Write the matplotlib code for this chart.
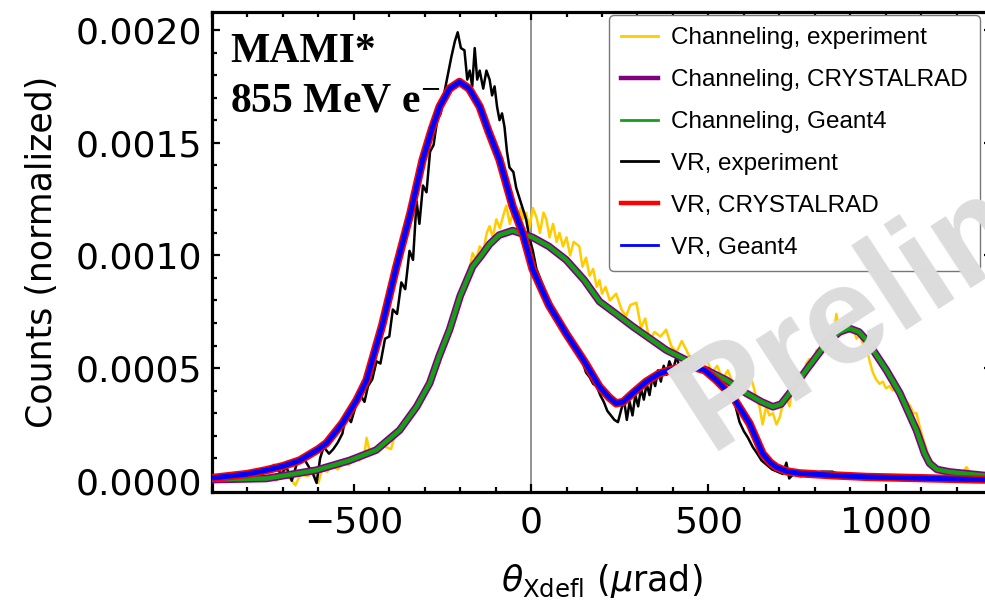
import matplotlib
matplotlib.use("Agg")
import matplotlib.pyplot as plt
from matplotlib.lines import Line2D
from matplotlib.ticker import MultipleLocator, FormatStrFormatter

# channeling, simulation (CRYSTALRAD / Geant4 overlap)
ch_sim_x = [-900, -746, -605, -512, -437, -371, -323, -286, -260, -230, -200, -165, -140, -117, -90,
            -52, 4, 50, 99, 150, 193, 240, 287, 381, 475, 550, 607, 650, 682, 705, 729, 776, 833,
            870, 898, 925, 946, 1002, 1040, 1087, 1110, 1124, 1145, 1180, 1274, 1300]
ch_sim_y = [0.000005, 0.00001, 0.000047, 0.00009, 0.000136, 0.000224, 0.000328, 0.000433, 0.00055,
            0.00067, 0.00082, 0.00095, 0.001, 0.00105, 0.00109, 0.00111, 0.00108, 0.00104, 0.00098,
            0.00089, 0.000795, 0.00074, 0.000684, 0.00058, 0.000506, 0.000447, 0.000388, 0.00035,
            0.000328, 0.00034, 0.000388, 0.000491, 0.00061, 0.00066, 0.000676, 0.00066, 0.000624,
            0.000491, 0.000389, 0.000224, 0.00012, 0.000077, 0.00005, 0.000039, 0.000024, 0.00002]

# volume reflection, simulation
vr_sim_x = [-900, -800, -746, -700, -653, -600, -577, -532, -492, -464, -420, -380, -340, -306, -280,
            -258, -230, -202, -175, -145, -120, -89, -52, -24, 4, 50, 100, 150, 193, 220, 240, 260,
            287, 325, 362, 410, 456, 490, 522, 569, 616, 653, 675, 692, 720, 757, 850, 946, 1274,
            1300]
vr_sim_y = [0.000012, 0.00003, 0.000047, 0.000065, 0.00009, 0.00014, 0.000167, 0.000256, 0.000358,
            0.000447, 0.00069, 0.00095, 0.00119, 0.001424, 0.00156, 0.00166, 0.00174, 0.00177,
            0.00174, 0.00166, 0.00155, 0.001424, 0.001217, 0.0011, 0.00094, 0.00078, 0.00065,
            0.00053, 0.000417, 0.00037, 0.000343, 0.00035, 0.000389, 0.00044, 0.000476, 0.0005,
            0.000506, 0.00049, 0.000447, 0.000372, 0.000254, 0.00012, 0.00008, 0.00006, 0.000042,
            0.000033, 0.000024, 0.000017, 0.000005, 0.000005]

# volume reflection, experiment
vr_exp_x = [-900, -880, -860, -840, -820, -800, -780, -760, -740, -725, -705, -690, -675, -660, -645,
            -630, -615, -605, -595, -585, -570, -558, -545, -532, -522, -508, -495, -485, -470, -460,
            -448, -436, -425, -412, -400, -390, -378, -366, -355, -343, -333, -323, -315, -305, -295,
            -285, -275, -265, -255, -245, -235, -225, -215, -207, -198, -188, -180, -173, -166, -159,
            -152, -145, -135, -126, -117, -110, -103, -96, -89, -82, -75, -68, -61, -50, -42, -32,
            -22, -14, -5, 5, 15, 25, 35, 45, 55, 65, 75, 85, 95, 105, 115, 125, 135, 145, 155, 165,
            175, 185, 195, 205, 215, 225, 235, 245, 255, 262, 270, 278, 286, 294, 302, 310, 318, 326,
            334, 342, 350, 358, 366, 374, 382, 390, 400, 410, 420, 430, 440, 450, 462, 475, 488, 500,
            512, 525, 538, 550, 562, 575, 588, 600, 612, 625, 638, 650, 665, 680, 695, 710, 720, 728,
            740, 760, 790, 820, 850, 880, 920, 960, 1000, 1050, 1100, 1150, 1200, 1250, 1300]
vr_exp_y = [0.00001, 0.00002, 0.00001, 0.00003, 0.00002, 0.00004, 0.00003, 0.00005, 0.00004, 0.00007,
            0.00003, 0.00006, 0.0, 0.00008, 0.00011, 0.00007, 0.00003, -0.00001, 0.0001, 0.00015,
            0.00012, 0.00014, 0.00017, 0.00021, 0.0003, 0.00026, 0.00033, 0.00039, 0.00035, 0.00042,
            0.00045, 0.00053, 0.00052, 0.00063, 0.00064, 0.00076, 0.00074, 0.00088, 0.00085, 0.00102,
            0.00098, 0.00124, 0.00114, 0.00131, 0.00128, 0.00146, 0.00149, 0.0016, 0.00163, 0.00172,
            0.0018, 0.00188, 0.00195, 0.00199, 0.00192, 0.00191, 0.00178, 0.00182, 0.00175, 0.00192,
            0.00178, 0.00182, 0.00174, 0.00182, 0.00178, 0.00171, 0.00175, 0.00166, 0.0016, 0.00163,
            0.00157, 0.00146, 0.00139, 0.00137, 0.0013, 0.00125, 0.0012, 0.00116, 0.00108, 0.00102,
            0.00094, 0.0009, 0.00086, 0.00082, 0.00079, 0.00076, 0.00072, 0.0007, 0.00067, 0.00065,
            0.0006, 0.00058, 0.00055, 0.00053, 0.00048, 0.00046, 0.00043, 0.00042, 0.00038, 0.00035,
            0.00031, 0.00029, 0.00027, 0.00026, 0.00032, 0.00036, 0.00027, 0.00035, 0.00029, 0.00038,
            0.00033, 0.00041, 0.00036, 0.00043, 0.00038, 0.00046, 0.00042, 0.00049, 0.00044, 0.00051,
            0.00047, 0.00053, 0.00049, 0.00055, 0.0005, 0.00054, 0.00052, 0.00055, 0.00051, 0.00053,
            0.00049, 0.0005, 0.00045, 0.00046, 0.00042, 0.00041, 0.00036, 0.00034, 0.00026, 0.00022,
            0.00019, 0.00015, 0.00012, 0.00009, 0.00007, 0.00005, 0.00004, 0.00003, 0.00008, 0.00001,
            0.00003, 0.00002, 0.00003, 0.00004, 0.00004, 0.00002, 0.00002, 0.00001, 0.00002, 0.00001,
            0.00001, 0.00001, 0.00001, 0.0, 0.0]

# channeling, experiment
ch_exp_x = [-900, -880, -860, -840, -820, -800, -780, -760, -740, -720, -700, -680, -665, -650, -630,
            -615, -600, -590, -575, -560, -545, -530, -515, -500, -485, -470, -464, -455, -440, -425,
            -410, -395, -385, -370, -355, -340, -325, -310, -295, -282, -270, -258, -246, -234, -222,
            -210, -198, -186, -175, -165, -155, -145, -135, -125, -117, -108, -98, -88, -78, -70, -60,
            -50, -40, -30, -22, -14, -5, 5, 15, 25, 35, 43, 52, 62, 72, 80, 90, 100, 110, 120, 136,
            145, 155, 165, 175, 185, 193, 200, 210, 222, 240, 255, 268, 280, 297, 310, 322, 334, 348,
            365, 381, 395, 410, 425, 438, 452, 466, 480, 495, 510, 525, 540, 555, 570, 588, 600, 616,
            627, 635, 644, 653, 663, 672, 682, 692, 701, 710, 720, 729, 738, 748, 757, 767, 776, 785,
            795, 805, 813, 823, 832, 842, 852, 861, 870, 880, 889, 898, 908, 918, 927, 937, 946, 955,
            964, 973, 983, 992, 1001, 1011, 1020, 1030, 1040, 1050, 1060, 1070, 1078, 1087, 1096,
            1105, 1115, 1124, 1133, 1145, 1160, 1175, 1190, 1205, 1215, 1228, 1240, 1255, 1270, 1285,
            1300]
ch_exp_y = [0.0, 0.00001, 0.0, 0.00001, 0.0, 0.00002, 0.0, 0.00001, 0.00002, 0.0, 0.00002, 0.00001,
            -0.00002, 0.00003, 0.00002, 0.00004, -0.00001, 0.00005, 0.00004, 0.00007, 0.00005,
            0.00008, 0.00007, 0.0001, 0.00009, 0.00012, 0.00019, 0.00013, 0.00014, 0.00016, 0.00015,
            0.00014, 0.0002, 0.00023, 0.00026, 0.00028, 0.00032, 0.00036, 0.00041, 0.00047, 0.00051,
            0.00057, 0.0006, 0.00066, 0.00072, 0.00076, 0.00082, 0.00086, 0.00093, 0.00101, 0.00098,
            0.00104, 0.00102, 0.0011, 0.00113, 0.00108, 0.00116, 0.00112, 0.00118, 0.00122, 0.00114,
            0.0012, 0.00113, 0.00121, 0.00116, 0.00119, 0.00112, 0.00121, 0.00117, 0.0011, 0.00119,
            0.00116, 0.00108, 0.00114, 0.00106, 0.0011, 0.00104, 0.00108, 0.001, 0.00106, 0.00104,
            0.00095, 0.00099, 0.00091, 0.00094, 0.00086, 0.00089, 0.00083, 0.00086, 0.0008, 0.00083,
            0.00076, 0.00073, 0.00078, 0.00079, 0.00068, 0.00072, 0.00062, 0.00066, 0.00064, 0.00067,
            0.0006, 0.00057, 0.00062, 0.00058, 0.00053, 0.00056, 0.0005, 0.00054, 0.00048, 0.00051,
            0.00045, 0.00049, 0.00043, 0.00046, 0.00041, 0.00048, 0.00042, 0.00037, 0.00033, 0.00025,
            0.00033, 0.00029, 0.0003, 0.00025, 0.00028, 0.00034, 0.00037, 0.00033, 0.00043, 0.00041,
            0.00048, 0.00045, 0.00052, 0.00054, 0.00051, 0.00058, 0.00058, 0.00062, 0.0006, 0.00065,
            0.00063, 0.00074, 0.00066, 0.00069, 0.0007, 0.00066, 0.00068, 0.00063, 0.00065, 0.0006,
            0.00059, 0.00053, 0.00048, 0.00045, 0.00043, 0.00044, 0.00041, 0.00042, 0.0004, 0.00041,
            0.00039, 0.00036, 0.00035, 0.00033, 0.0003, 0.0003, 0.00024, 0.00019, 0.00014, 0.0001,
            0.00008, 0.00005, 0.00004, 0.00005, 0.00003, 0.00004, 0.00003, 0.00006, 0.00003, 0.00003,
            0.00002, 0.00003, 0.00002]

legend_labels = ["Channeling, experiment", "Channeling, CRYSTALRAD", "Channeling, Geant4",
                 "VR, experiment", "VR, CRYSTALRAD", "VR, Geant4"]

YELLOW = "#ffcc00"
PURPLE = "#800080"
GREEN = "#14a014"

fig = plt.figure(figsize=(9.85, 6.05), dpi=100)
ax = fig.add_axes([212 / 985, 113 / 605, 780 / 985, 480 / 605])

ax.axvline(0, color="#808080", lw=1.2, zorder=1)

ax.plot(ch_exp_x, ch_exp_y, color=YELLOW, lw=1.8, zorder=2)
ax.plot(vr_exp_x, vr_exp_y, color="black", lw=1.8, zorder=3)
ax.plot(ch_sim_x, ch_sim_y, color=PURPLE, lw=5.5, zorder=4, solid_capstyle="butt")
ax.plot(ch_sim_x, ch_sim_y, color=GREEN, lw=3.2, zorder=5, solid_capstyle="butt")
ax.plot(vr_sim_x, vr_sim_y, color="red", lw=6.0, zorder=6, solid_capstyle="butt")
ax.plot(vr_sim_x, vr_sim_y, color="blue", lw=3.6, zorder=7, solid_capstyle="butt")

ax.set_xlim(-900, 1300)
ax.set_ylim(-0.00005, 0.00208)

ax.xaxis.set_major_locator(MultipleLocator(500))
ax.xaxis.set_minor_locator(MultipleLocator(100))
ax.yaxis.set_major_locator(MultipleLocator(0.0005))
ax.yaxis.set_minor_locator(MultipleLocator(0.0001))
ax.yaxis.set_major_formatter(FormatStrFormatter("%.4f"))

ax.tick_params(which="both", direction="in", top=True, right=True, width=1.6)
ax.tick_params(which="major", length=6, labelsize=26, pad=10)
ax.tick_params(axis="y", which="major", pad=7)
ax.tick_params(which="minor", length=3.5)
for sp in ax.spines.values():
    sp.set_linewidth(2.3)

ax.set_ylabel("Counts (normalized)", fontsize=25, labelpad=12)
ax.set_xlabel(r"$\theta_{\rm Xdefl}$ ($\mu$rad)", fontsize=25, labelpad=16)

fig.text(230 / 985, 1 - 62 / 605, "MAMI*", family="Liberation Serif", weight="bold",
         fontsize=30, va="baseline")
fig.text(230 / 985, 1 - 112 / 605, r"855 MeV e$^{-}$", family="Liberation Serif", weight="bold",
         fontsize=30, va="baseline", math_fontfamily="stix")

handles = [Line2D([], [], color=YELLOW, lw=2.0),
           Line2D([], [], color=PURPLE, lw=3.2),
           Line2D([], [], color=GREEN, lw=2.0),
           Line2D([], [], color="black", lw=2.0),
           Line2D([], [], color="red", lw=3.2),
           Line2D([], [], color="blue", lw=2.0)]
leg = ax.legend(handles, legend_labels, loc="upper right",
                bbox_to_anchor=(980 / 985, 1 - 15 / 605), bbox_transform=fig.transFigure,
                borderaxespad=0, prop={"family": "Liberation Sans", "size": 17.5},
                handlelength=1.5, handletextpad=0.55, labelspacing=0.82,
                borderpad=0.5, fancybox=True, framealpha=1, edgecolor="#777777")
leg.get_frame().set_linewidth(1.0)
leg.set_zorder(10)

fig.text(710 / 985, 1 - 452 / 605, "Preliminary", family="Liberation Sans", weight="bold",
         fontsize=100, color="#dcdcdc", rotation=33, rotation_mode="anchor",
         ha="left", va="baseline", zorder=20)

fig.savefig("out.png", dpi=100)
